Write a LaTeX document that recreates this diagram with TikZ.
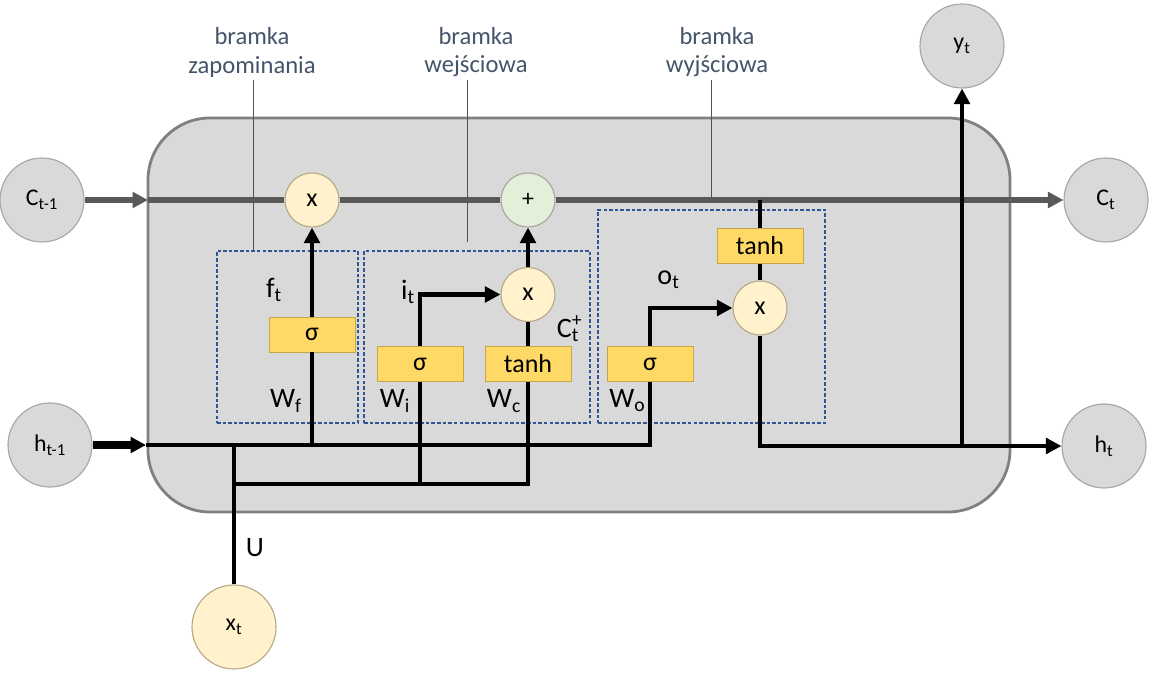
\documentclass[tikz,border=0pt]{standalone}
\usepackage{fontspec}
\setmainfont{Carlito}
\usepackage{xcolor}
\usetikzlibrary{arrows.meta}

\definecolor{bodygray}{HTML}{D9D9D9}
\definecolor{bodyrim}{HTML}{808080}
\definecolor{staterim}{HTML}{A6A6A6}
\definecolor{opyellow}{HTML}{FFF2CC}
\definecolor{oprim}{HTML}{B8A888}
\definecolor{addgreen}{HTML}{E2F0D9}
\definecolor{actyellow}{HTML}{FFD966}
\definecolor{actrim}{HTML}{C9A54A}
\definecolor{gateblue}{HTML}{2F5597}
\definecolor{labelblue}{HTML}{44546A}
\definecolor{cellline}{HTML}{595959}

\tikzset{
  cellbody/.style={draw=bodyrim,fill=bodygray,line width=2pt,rounded corners=1.55cm},
  statenode/.style={circle,draw=staterim,line width=0.8pt,fill=bodygray,minimum size=2.1cm,inner sep=0pt,font=\fontsize{17}{20}\selectfont},
  op/.style={circle,draw=oprim,line width=0.8pt,fill=opyellow,minimum size=1.35cm,inner sep=0pt,font=\fontsize{18.5}{20}\selectfont},
  act/.style={rectangle,draw=actrim,line width=0.6pt,fill=actyellow,minimum width=2.15cm,minimum height=0.875cm,inner sep=0pt,font=\fontsize{18.5}{20}\selectfont},
  gatebox/.style={draw=gateblue,line width=0.85pt,dash pattern=on 2.5pt off 1.5pt,inner sep=0pt},
  gatelabel/.style={align=center,text=labelblue,inner sep=2pt,font=\fontsize{17.5}{20}\selectfont},
  labelline/.style={draw=labelblue,line width=0.7pt},
  wlabel/.style={inner sep=0pt,font=\fontsize{20}{22}\selectfont},
  wire/.style={line width=3.5pt,draw=black},
  hwire/.style={line width=5pt,draw=black},
  cellwire/.style={line width=4.5pt,draw=cellline},
  arrowed/.style={-{Triangle[length=11pt,width=11pt]}}
}

\begin{document}
\begin{tikzpicture}
    \useasboundingbox (0,0) rectangle (28.725,16.825);

    % Cell body
    \draw[cellbody] (3.7,4.025) rectangle (25.25,13.875);

    % Gate regions
    \node[gatebox,minimum width=3.525cm,minimum height=4.3cm] (fgate) at (7.1875,8.4) {};
    \node[gatebox,minimum width=5.65cm,minimum height=4.3cm] (igate) at (11.925,8.4) {};
    \node[gatebox,minimum width=5.675cm,minimum height=5.325cm] (ogate) at (17.7875,8.9125) {};

    % Gate labels
    \node[gatelabel] (flabel) at (6.3,15.515) {bramka\\zapominania};
    \node[gatelabel] (ilabel) at (11.9,15.515) {bramka\\wejściowa};
    \node[gatelabel] (olabel) at (17.925,15.515) {bramka\\wyjściowa};
    \draw[labelline] ([xshift=0.025cm]flabel.south) -- ([xshift=0.025cm]flabel.south |- fgate.north);
    \draw[labelline,shorten >=0.22cm] ([xshift=-0.225cm]ilabel.south) -- ([xshift=-0.225cm]ilabel.south |- igate.north);
    \draw[labelline,shorten >=0.17cm] ([xshift=-0.15cm]olabel.south) -- ([xshift=-0.15cm]olabel.south |- ogate.north);

    % States
    \node[statenode] (cprev) at (1.05,11.825) {C\textsubscript{t-1}};
    \node[statenode] (cnext) at (27.65,11.825) {C\textsubscript{t}};
    \node[statenode] (hprev) at (1.25,5.7) {h\textsubscript{t-1}};
    \node[statenode] (hnext) at (27.6,5.675) {h\textsubscript{t}};
    \node[statenode] (yt) at (24.05,15.675) {y\textsubscript{t}};
    \node[statenode,fill=opyellow,draw=oprim] (xt) at (5.85,1.15) {x\textsubscript{t}};

    % Pointwise operations
    \node[op] (fmul) at (7.8,11.825) {x};
    \node[op,fill=addgreen,draw=staterim,font=\fontsize{17}{20}\selectfont] (cadd) at (13.2,11.825) {+};
    \node[op] (imul) at (13.2,9.4625) {x};
    \node[op] (omul) at (19.0,9.125) {x};

    % Activations
    \node[act] (fsig) at (7.8,8.4625) {σ};
    \node[act] (isig) at (10.5,7.725) {σ};
    \node[act] (itanh) at (13.2,7.725) {tanh};
    \node[act] (osig) at (16.25,7.725) {σ};
    \node[act] (otanh) at (19.0,10.675) {tanh};

    % Entry points
    \coordinate (cin) at (3.7,11.825);
    \coordinate (hin) at (3.65,5.7);
    \coordinate (xlow) at (5.85,4.725);

    % Cell state
    \draw[cellwire,arrowed] (cprev) -- (cin);
    \draw[cellwire,arrowed] (cin) -- (fmul) -- (cadd) -- (cnext);

    % Hidden state and input
    \draw[hwire,arrowed] (hprev) -- (hin);
    \draw[wire] (hin) -| (osig);
    \draw[wire] (xt) -- (xt |- hin);
    \draw[wire] (xlow) -| (itanh);
    \draw[wire] (isig.south |- xlow) -- (isig);
    \draw[wire] (fsig.south |- hin) -- (fsig);

    % Gates
    \draw[wire,arrowed] (fsig) -- (fmul);
    \draw[wire,arrowed] (isig) |- (imul);
    \draw[wire] (itanh) -- (imul);
    \draw[wire,arrowed] (imul) -- (cadd);
    \draw[wire,arrowed] (osig) |- (omul);
    \draw[wire] (otanh.north |- cadd) -- (otanh);
    \draw[wire] (otanh) -- (omul);
    \draw[wire,arrowed] (omul) |- (hnext);
    \draw[wire,arrowed] (yt |- hnext) -- (yt);

    % Labels
    \node[wlabel] (ft) at (6.85,9.575) {f\textsubscript{t}};
    \node[wlabel] (wf) at (7.15,6.8) {W\textsubscript{f}};
    \node[wlabel] (it) at (10.2,9.525) {i\textsubscript{t}};
    \node[wlabel] (wi) at (9.875,6.8) {W\textsubscript{i}};
    \node[wlabel] (wc) at (12.6,6.8) {W\textsubscript{c}};
    \node[wlabel] (ctplus) at (14.2,8.6) {C\rlap{\textsuperscript{+}}\textsubscript{t}};
    \node[wlabel] (ot) at (16.7125,9.825) {o\textsubscript{t}};
    \node[wlabel] (wo) at (15.6875,6.8125) {W\textsubscript{o}};
    \node[wlabel] (u) at (6.375,3.125) {U};
\end{tikzpicture}
\end{document}
